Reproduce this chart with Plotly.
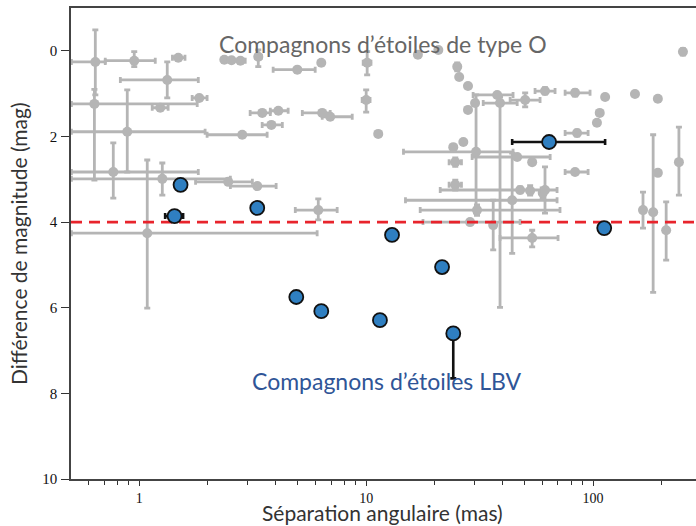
import numpy as np
import plotly.graph_objects as go

# ---- O-star companions (grey) ----
o_sep = [0.640, 0.950, 0.634, 1.485, 1.328, 1.838, 1.237, 0.885, 2.843, 0.768,
         1.263, 2.466, 3.311, 1.084, 6.15, 2.37, 2.55, 2.79, 3.345, 4.97,
         6.34, 3.483, 4.10, 3.82, 6.40, 6.94, 10.1, 10.0, 11.3, 16.9,
         20.8, 25.2, 25.7, 28.1, 30.2, 28.1, 26.8, 24.2, 24.7, 24.7,
         37.8, 30.5, 38.9, 50.2, 61.4, 83.3, 113, 153, 193, 249,
         107, 104, 85.0, 83.3, 193, 184, 239, 166, 210, 53.9,
         44.0, 30.8, 28.7, 46.3, 53.9, 47.7, 52.8, 60.0, 36.3, 61.4]
o_dmag = [0.26, 0.23, 1.24, 0.16, 0.68, 1.10, 1.33, 1.89, 1.96, 2.83,
          2.99, 3.06, 3.16, 4.26, 3.72, 0.21, 0.22, 0.23, 0.14, 0.44,
          0.28, 1.45, 1.40, 1.73, 1.45, 1.54, 0.28, 1.15, 1.94, 0.09,
          -0.02, 0.37, 0.61, 0.82, 1.22, 1.38, 2.13, 2.25, 2.60, 3.13,
          1.03, 2.36, 1.22, 1.15, 0.94, 0.98, 1.08, 1.01, 1.12, 0.02,
          1.45, 1.68, 1.92, 2.83, 2.85, 3.77, 2.60, 3.72, 4.19, 4.37,
          3.49, 3.72, 4.00, 2.48, 2.60, 3.25, 3.27, 3.32, 4.07, 3.25]
o_sep_lo = [0.502, 0.708, 0.502, 1.40, 0.825, 1.71, 1.14, 0.502, 1.99, 0.502,
            0.502, 1.77, 2.52, 0.502, 4.87, 2.32, 2.55, 2.60, 3.25, 3.89,
            6.34, 3.08, 3.78, 3.48, 5.23, 6.40, 9.7, 9.6, 11.3, 16.9,
            20.8, 25.2, 25.7, 28.1, 30.2, 28.1, 26.8, 24.2, 23.2, 23.2,
            29.6, 14.6, 32.8, 43.1, 55.5, 75.3, 113, 153, 193, 249,
            107, 104, 75.3, 75.3, 193, 184, 239, 166, 210, 38.9,
            14.9, 17.3, 17.8, 29.3, 53.9, 21.2, 52.8, 60.0, 36.3, 61.4]
o_sep_hi = [0.708, 1.176, 1.80, 1.59, 1.82, 1.99, 1.34, 1.95, 3.66, 1.82,
            2.52, 3.15, 4.01, 6.08, 7.45, 2.45, 2.55, 2.93, 3.45, 5.96,
            6.34, 3.78, 4.53, 4.27, 6.94, 8.68, 10.5, 10.4, 11.3, 16.9,
            20.8, 25.2, 25.7, 28.1, 30.2, 28.1, 26.8, 24.2, 26.3, 26.3,
            44.4, 44.4, 46.3, 58.4, 68.0, 97.0, 113, 153, 193, 249,
            107, 104, 95.1, 95.1, 193, 184, 239, 166, 210, 70.1,
            69.4, 71.5, 47.7, 64.7, 53.9, 69.4, 52.8, 60.0, 36.3, 61.4]
o_dmag_lo = [-0.49, 0.02, 0.90, 0.16, 0.26, 1.10, 1.33, 0.91, 1.96, 2.15,
             2.62, 3.00, 3.16, 2.55, 3.46, 0.21, 0.22, 0.23, -0.02, 0.44,
             0.28, 1.45, 1.40, 1.73, 1.45, 1.54, 0.02, 0.91, 1.94, 0.09,
             -0.02, 0.28, 0.61, 0.82, 1.22, 1.38, 2.13, 2.25, 2.50, 3.02,
             1.03, 1.03, 1.08, 0.98, 0.86, 0.91, 1.08, 1.01, 1.12, -0.05,
             1.45, 1.68, 1.85, 2.78, 2.85, 1.96, 1.78, 3.30, 3.53, 4.19,
             2.39, 3.60, 3.95, 2.43, 2.60, 3.18, 3.15, 3.20, 3.49, 2.71]
o_dmag_hi = [1.03, 0.37, 3.02, 0.16, 1.10, 1.10, 1.33, 2.83, 1.96, 3.44,
             3.37, 3.12, 3.16, 6.01, 3.95, 0.21, 0.22, 0.23, 0.37, 0.44,
             0.28, 1.45, 1.40, 1.73, 1.45, 1.54, 0.56, 1.43, 1.94, 0.09,
             -0.02, 0.47, 0.61, 0.82, 1.22, 1.38, 2.13, 2.25, 2.70, 3.25,
             1.03, 3.79, 5.99, 1.31, 1.01, 1.06, 1.08, 1.01, 1.12, 0.10,
             1.45, 1.68, 1.99, 2.88, 2.85, 5.64, 3.37, 4.14, 4.89, 4.58,
             4.73, 3.84, 4.05, 2.53, 2.60, 3.32, 3.37, 3.44, 4.65, 3.79]

# ---- LBV companions (blue) ----
lbv_sep = [1.52, 1.43, 3.31, 13.0, 21.6, 4.92, 6.34, 11.5, 24.2, 64.0, 112]
lbv_dmag = [3.13, 3.86, 3.67, 4.30, 5.05, 5.75, 6.08, 6.29, 6.60, 2.13, 4.14]
lbv_sep_lo = [1.52, 1.30, 3.31, 13.0, 21.6, 4.92, 6.34, 11.5, 24.2, 44.0, 112]
lbv_sep_hi = [1.52, 1.56, 3.31, 13.0, 21.6, 4.92, 6.34, 11.5, 24.2, 113, 112]
lbv_dmag_lo = [3.13, 3.86, 3.67, 4.30, 5.05, 5.75, 6.08, 6.29, 6.60, 2.13, 4.14]
lbv_dmag_hi = [3.13, 3.86, 3.67, 4.30, 5.05, 5.75, 6.08, 6.29, 7.65, 2.13, 4.14]

limit_mag = 4.0
x_limits = [0.5, 284]

y_ticks = [0, 2, 4, 6, 8, 10]
x_ticks = [1, 10, 100]
x_minor = [0.6, 0.7, 0.8, 0.9, 2, 3, 4, 5, 6, 7, 8, 9,
           20, 30, 40, 50, 60, 70, 80, 90, 200]

x_title = "Séparation angulaire (mas)"
y_title = "Différence de magnitude (mag)"
label_o = "Compagnons d’étoiles de type O"
label_lbv = "Compagnons d’étoiles LBV"

GREY = "#b5b5b5"
BLUE = "#2f7fc1"

os_ = np.array(o_sep); od = np.array(o_dmag)
ls = np.array(lbv_sep); ld = np.array(lbv_dmag)

fig = go.Figure()
fig.add_trace(go.Scatter(
    x=o_sep, y=o_dmag, mode="markers",
    marker=dict(color=GREY, size=10),
    error_x=dict(type="data", symmetric=False,
                 array=np.array(o_sep_hi) - os_, arrayminus=os_ - np.array(o_sep_lo),
                 color=GREY, thickness=2.8, width=3),
    error_y=dict(type="data", symmetric=False,
                 array=np.array(o_dmag_hi) - od, arrayminus=od - np.array(o_dmag_lo),
                 color=GREY, thickness=2.8, width=3),
    showlegend=False, hoverinfo="skip"))

fig.add_trace(go.Scatter(
    x=x_limits, y=[limit_mag, limit_mag], mode="lines",
    line=dict(color="#e8242c", width=2.6, dash="11px,7px"),
    showlegend=False, hoverinfo="skip"))

fig.add_trace(go.Scatter(
    x=lbv_sep, y=lbv_dmag, mode="markers",
    marker=dict(color=BLUE, size=14, line=dict(color="#111111", width=1.8)),
    error_x=dict(type="data", symmetric=False,
                 array=np.array(lbv_sep_hi) - ls, arrayminus=ls - np.array(lbv_sep_lo),
                 color="#111111", thickness=2.6, width=3),
    error_y=dict(type="data", symmetric=False,
                 array=np.array(lbv_dmag_hi) - ld, arrayminus=ld - np.array(lbv_dmag_lo),
                 color="#111111", thickness=2.6, width=3),
    showlegend=False, hoverinfo="skip"))

ytickfont = dict(family="Liberation Serif, DejaVu Serif, serif", size=15, color="#111")
xtickfont = dict(family="Liberation Serif, DejaVu Serif, serif", size=14, color="#111")
sans = "Lato, Open Sans, sans-serif"

fig.update_layout(
    width=696, height=526,
    margin=dict(l=71, r=0, t=8, b=47),
    plot_bgcolor="white", paper_bgcolor="white",
    xaxis=dict(type="log", range=[np.log10(0.5), 2.4537],
               tickvals=x_ticks, ticktext=[str(v) for v in x_ticks],
               ticks="outside", ticklen=5, tickwidth=1.2, tickcolor="#333",
               minor=dict(tickvals=x_minor, ticks="outside", ticklen=4,
                          tickwidth=1, tickcolor="#333", showgrid=False),
               showline=True, linecolor="#444", linewidth=1.5, mirror=True,
               showgrid=False, zeroline=False, tickfont=xtickfont),
    yaxis=dict(range=[10.0, -1.0], tickvals=y_ticks,
               ticks="outside", ticklen=8, tickwidth=1.2, tickcolor="#333",
               ticklabelstandoff=1,
               showline=True, linecolor="#444", linewidth=1.5, mirror=False,
               showgrid=False, zeroline=False, tickfont=ytickfont),
    annotations=[
        dict(text=label_o, xref="paper", yref="paper",
             x=0.499, y=0.958, showarrow=False,
             font=dict(family=sans, size=23, color="#666666")),
        dict(text=label_lbv, xref="paper", yref="paper",
             x=0.506, y=0.174, showarrow=False,
             font=dict(family=sans, size=23, color="#2f5597")),
        dict(text=x_title, xref="paper", yref="paper",
             x=0.499, y=-0.072, yanchor="middle", showarrow=False,
             font=dict(family=sans, size=21, color="#333")),
        dict(text=y_title, xref="paper", yref="paper", textangle=-90,
             x=-0.084, y=0.50, xanchor="center", yanchor="middle", showarrow=False,
             font=dict(family=sans, size=21, color="#333")),
    ],
)

fig.write_html("out.html")
